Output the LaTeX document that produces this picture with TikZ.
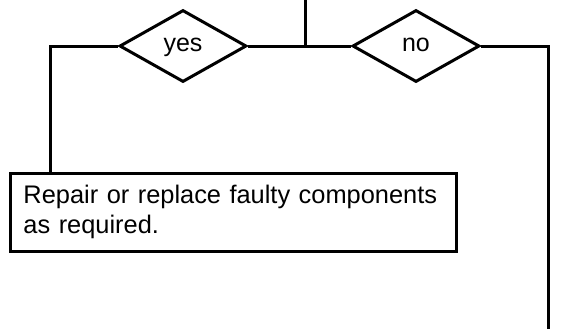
\documentclass[tikz,border=0pt]{standalone}
\usepackage{fontspec}
\setmainfont{Liberation Sans}
\usetikzlibrary{shapes.geometric, positioning, calc}

\tikzset{
  decision/.style={draw, diamond, line width=1.5pt, inner sep=0pt, minimum width=63.5pt, minimum height=36pt, text height=1ex, text depth=0pt, font=\fontsize{12.5}{15}\selectfont},
  action/.style={draw, rectangle, line width=1.5pt, anchor=north west, text width=210pt, inner xsep=6.5pt, inner ysep=6pt, align=left, font=\fontsize{12.7}{15}\selectfont},
  flowline/.style={line width=1.5pt}
}

\begin{document}
\begin{tikzpicture}[x=0.5pt, y=-0.5pt]
\useasboundingbox (0,0) rectangle (574,329);

% Decisions
\node[decision] (yes) at (183,46) {yes};
\node[decision] (no) at (416,46) {no};

% Action box
\node[action] (repair) at (9,172) {Repair or replace faulty components as required.};

% Corners and loose ends
\coordinate (entry) at (305,0);
\coordinate (junction) at (305,46);
\coordinate (lcorner) at (50,46);
\coordinate (rcorner) at (548,46);
\coordinate (rend) at (548,329);

\draw[flowline] (entry) -- (junction);
\draw[flowline] (yes.east) -- (junction) -- (no.west);
\draw[flowline] (yes.west) -- (lcorner) -- (lcorner |- repair.north);
\draw[flowline] (no.east) -- (rcorner) -- (rend);
\end{tikzpicture}
\end{document}
